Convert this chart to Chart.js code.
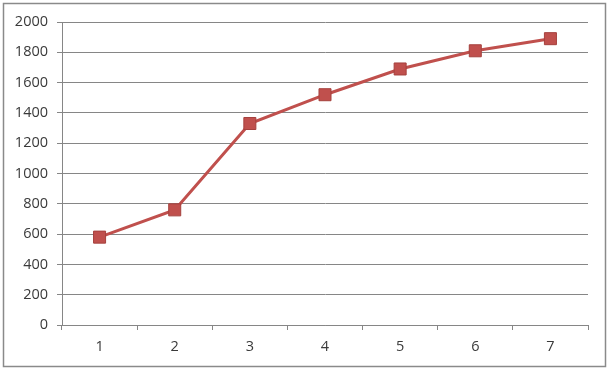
<!DOCTYPE html>
<html>
<head>
<meta charset="utf-8">
<script src="https://cdn.jsdelivr.net/npm/chart.js@4"></script>
<style>
    html, body { margin: 0; padding: 0; background: #fff; }
    #wrap { position: relative; width: 610px; height: 371px; }
</style>
</head>
<body>
<div id="wrap"><canvas id="lineChart" width="610" height="371"></canvas></div>
<script>
// data
const categories = ['1', '2', '3', '4', '5', '6', '7'];
const seriesValues = [580, 760, 1330, 1520, 1690, 1810, 1890];
const yTicks = [0, 200, 400, 600, 800, 1000, 1200, 1400, 1600, 1800, 2000];

const gridGrey = '#868686';
const textColor = '#3a3a3a';

// outer frame like the Excel chart border
const frame = {
    id: 'frame',
    beforeDraw(chart) {
        const c = chart.ctx;
        c.save();
        c.fillStyle = '#fff';
        c.fillRect(0, 0, chart.width, chart.height);
        c.strokeStyle = '#8a8a8a';
        c.lineWidth = 1.5;
        c.strokeRect(3.5, 3.5, 602, 363);
        c.restore();
    }
};

const ctx = document.getElementById('lineChart').getContext('2d');
new Chart(ctx, {
    type: 'line',
    data: {
        labels: categories,
        datasets: [{
            data: seriesValues,
            borderColor: '#c0504d',
            borderWidth: 3,
            backgroundColor: '#c0504d',
            pointStyle: 'rect',
            pointRadius: 8.5,
            pointBorderColor: '#a5403d',
            pointBorderWidth: 1,
            tension: 0
        }]
    },
    options: {
        responsive: false,
        animation: false,
        layout: { padding: { top: 22, right: 22, left: 0, bottom: 0 } },
        plugins: { legend: { display: false }, tooltip: { enabled: false } },
        scales: {
            x: {
                offset: true,
                grid: { offset: true, drawOnChartArea: false, drawTicks: true, tickLength: 5, color: gridGrey },
                border: { color: gridGrey, width: 1 },
                ticks: { color: textColor, font: { family: 'Open Sans', size: 14.5 }, padding: 8 },
                afterFit: s => { s.height = 371 - 325; }
            },
            y: {
                min: 0,
                max: 2000,
                afterBuildTicks: s => { s.ticks = yTicks.map(v => ({ value: v })); },
                grid: { color: gridGrey, tickLength: 5 },
                border: { color: gridGrey, width: 1 },
                ticks: {
                    color: textColor,
                    font: { family: 'Open Sans', size: 14.5 },
                    padding: 9,
                    callback: v => String(v)
                },
                afterFit: s => { s.width = 62; }
            }
        }
    },
    plugins: [frame]
});
</script>
</body>
</html>
